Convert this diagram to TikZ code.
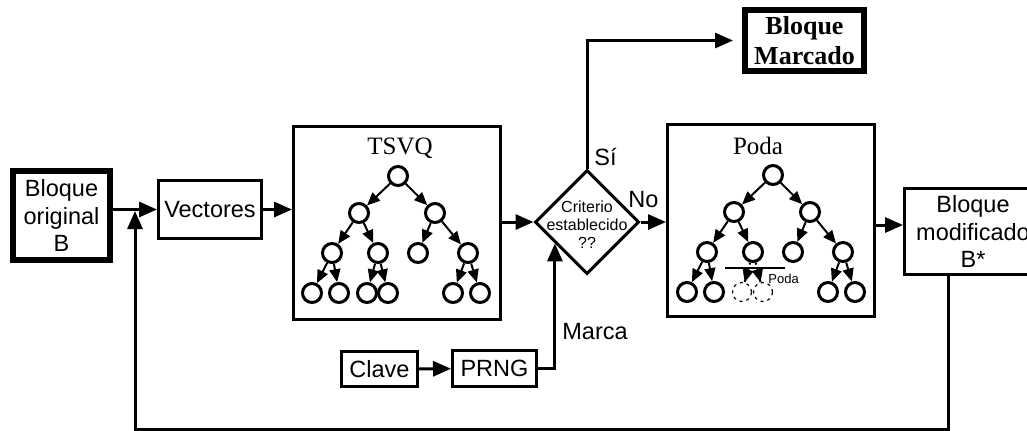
\documentclass[tikz,border=0pt]{standalone}
\usepackage{fontspec}
\setmainfont{Liberation Serif}
\setsansfont{Liberation Sans}
\usetikzlibrary{shapes.geometric,arrows.meta,calc}

\begin{document}
\begin{tikzpicture}[x=0.5pt,y=-0.5pt,
  box/.style={draw,line width=1.5pt,inner sep=0pt,align=center,font=\sffamily\fontsize{11.75}{13.75}\selectfont},
  thickbox/.style={box,line width=3pt},
  panel/.style={draw,line width=1.5pt,minimum width=103.5pt,minimum height=96.5pt},
  conn/.style={line width=1.5pt,-{Triangle[length=9pt,width=7.5pt]}},
  leaf/.style={circle,draw,line width=1.5pt,minimum size=9.5pt,inner sep=0pt},
  twig/.style={line width=1pt,-{Triangle[length=6.5pt,width=5.5pt]}},
  lbl/.style={font=\sffamily\fontsize{11.75}{13.75}\selectfont,inner sep=0pt,anchor=west}]
  \path[use as bounding box] (0,0) rectangle (1027,430);
  \clip (0,0) rectangle (1027,430);

  \node[thickbox,minimum width=48.5pt,minimum height=44.5pt] (orig) at (61.5,215.5) {Bloque\\original\\B};
  \node[box,minimum width=51.5pt,minimum height=29pt] (vec) at (210,209.5) {Vectores};
  \node[panel] (tsvq) at (397,223) {};
  \node[font=\fontsize{12.5}{14}\selectfont] (tsvqlbl) at (400,148) {TSVQ};
  \node[diamond,draw,line width=1.5pt,minimum width=52pt,minimum height=52pt,inner sep=0pt,
    label={[align=center,yshift=-1.5pt,font=\sffamily\fontsize{8}{9}\selectfont]center:Criterio\\establecido\\??}] (crit) at (587,222) {};
  \node[thickbox,font=\bfseries\fontsize{13}{15}\selectfont,minimum width=59.5pt,minimum height=30.5pt] (marc) at (804.5,40.5) {Bloque\\Marcado};
  \node[panel,minimum height=96pt] (poda) at (771,220.5) {};
  \node[font=\fontsize{12.5}{14}\selectfont] (podalbl) at (758,146) {Poda};
  \node[box,minimum width=68.5pt,minimum height=43pt] (mod) at (973,231.5) {Bloque\\modificado\\B*};
  \node[box,minimum width=38pt,minimum height=17.5pt] (clave) at (379.5,369) {Clave};
  \node[box,minimum width=42pt,minimum height=18pt] (prng) at (494.5,368.5) {PRNG};

  \node[lbl] (si) at (594,157) {Sí};
  \node[lbl] (no) at (628,200) {No};
  \node[lbl] (marca) at (562,332) {Marca};
  \node[lbl,font=\sffamily\fontsize{6.5}{7}\selectfont] (cut) at (768,279) {Poda};

  % both trees
  \foreach \pre/\cx/\cy in {t/398/176,p/773/175}{
    \foreach \n/\dx/\dy in {1/0/0,2/-39/37,3/37/37,4/-66/77,5/-20/77,6/20/77,7/70/77,8/-86/117,9/-59/117,12/55/117,13/82/117}
      \node[leaf] (\pre\n) at (\cx+\dx,\cy+\dy) {};
    \foreach \a/\b in {1/2,1/3,2/4,2/5,3/6,3/7,4/8,4/9,7/12,7/13}
      \draw[twig] (\pre\a) -- (\pre\b);
  }
  \foreach \n/\dx in {10/-31,11/-10}{
    \node[leaf] (t\n) at (398+\dx,293) {};
    \node[leaf,dotted,line width=0.6pt] (p\n) at (773+\dx,292) {};
    \draw[twig] (t5) -- (t\n);
    \draw[dotted,line width=1pt] (p5) -- (p\n);
    \draw[twig] ($(p5)!0.45!(p\n)$) -- (p\n);
  }
  \draw[line width=1.3pt] (725,268) -- (785,268);

  \draw[conn] (vec.west -| orig.east) -- (vec.west);
  \draw[conn] (vec.east) -- (vec.east -| tsvq.west);
  \draw[conn] (crit.west -| tsvq.east) -- (crit.west);
  \draw[conn] (crit.north) |- ([xshift=-4.5pt]marc.west);
  \draw[conn] (crit.east) -- (crit.east -| poda.west);
  \coordinate (mi) at ([yshift=3.25pt]mod.west);
  \draw[conn] (mi -| poda.east) -- (mi);
  \draw[conn] (clave) -- (prng);
  \coordinate (mk) at ($(crit.west)!0.4!(crit.south)$);
  \draw[conn] (prng.east) -| (mk);
  \coordinate (fb) at ([xshift=-12.5pt]mod.south);
  \coordinate (join) at ($(vec.west -| orig.east)!0.5!(vec.west)$);
  \draw[conn,shorten >=0.75pt] (fb) -- (fb |- 0,429) -| (join);
\end{tikzpicture}
\end{document}
